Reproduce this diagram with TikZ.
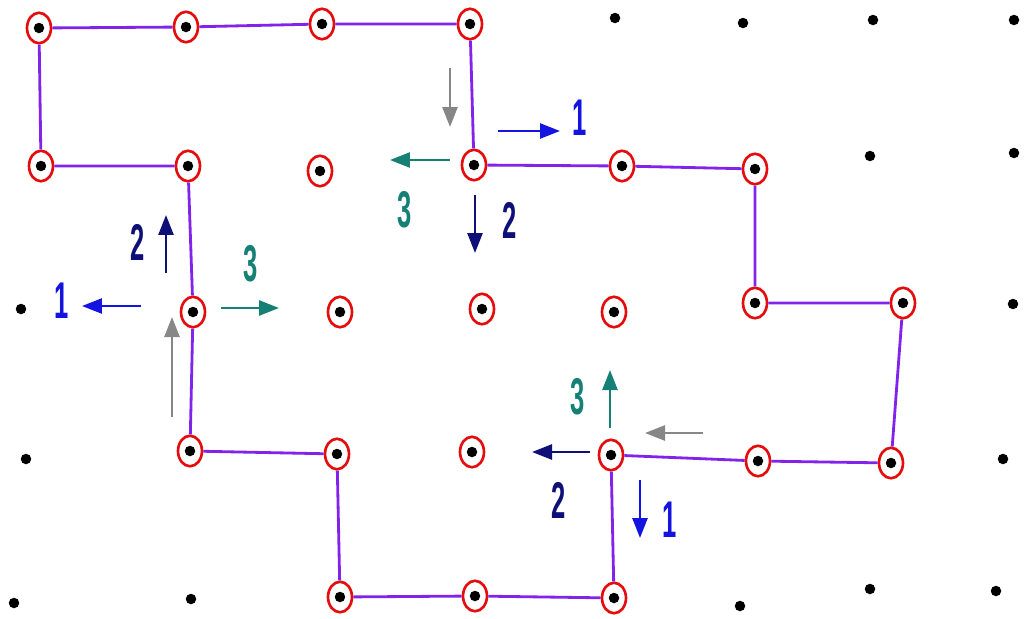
\documentclass[tikz,border=0pt]{standalone}
\usepackage{graphicx}
\usepackage{fontspec}
\setsansfont{Liberation Sans}
\usetikzlibrary{shapes.geometric,arrows.meta}
\definecolor{cPath}{RGB}{130,35,235}
\definecolor{cRing}{RGB}{228,12,12}
\definecolor{tOne}{RGB}{20,20,225}
\definecolor{tTwo}{RGB}{15,15,120}
\definecolor{tThree}{RGB}{20,128,118}
\definecolor{tBack}{RGB}{135,135,135}
\newcommand{\dignum}[1]{\scalebox{0.52}[1.05]{\bfseries #1}}

\begin{document}
\begin{tikzpicture}[
  x=0.02cm, y=-0.02cm,
  >={Triangle[length=4mm,width=3mm]},
  site/.style={ellipse, draw=cRing, line width=1.5pt, fill=white, inner sep=0pt, minimum width=4.8mm, minimum height=6.1mm},
  grid/.style={circle, fill=black, inner sep=0pt, minimum size=2.1mm},
  route/.style={draw=cPath, line width=1.6pt},
  mv/.style={->, line width=1.5pt},
  lbl/.style={font=\sffamily\fontsize{28}{30}\selectfont, inner sep=0pt},
]
\useasboundingbox (0,0) rectangle (1025,619);

% ---- plain lattice points ----
\foreach \n/\x/\y in {g1/615/18, g2/743/23, g3/873/20, g4/1014/20, g5/870/156, g6/1014/153,
  g7/21/309, g8/1013/304, g9/26/459, g10/1003/459, g11/14/603, g12/191/599,
  g13/740/606, g14/870/589, g15/996/591}
  \node[grid] (\n) at (\x,\y) {};

% ---- ringed points on the loop ----
\foreach \n/\x/\y in {a1/39/28, a2/186/27, a3/322/24, a4/470/24, a5/474/165, a6/622/166,
  a7/755/169, a8/755/303, a9/903/303, a10/891/463, a11/758/461, a12/611/455,
  a13/614/598, a14/475/596, a15/340/597, a16/337/454, a17/190/451, a18/193/312,
  a19/188/166, a20/41/166}
  {\node[site] (\n) at (\x,\y) {};
   \node[grid] (\n c) at (\n) {};}

% ---- ringed points inside ----
\foreach \n/\x/\y in {b1/320/171, b2/340/312, b3/482/309, b4/614/312, b5/472/452}
  {\node[site] (\n) at (\x,\y) {};
   \node[grid] (\n c) at (\n) {};}

% ---- the loop ----
\draw[route] (a1) -- (a2) -- (a3) -- (a4) -- (a5) -- (a6) -- (a7) -- (a8) -- (a9) -- (a10)
  -- (a11) -- (a12) -- (a13) -- (a14) -- (a15) -- (a16) -- (a17) -- (a18) -- (a19) -- (a20) -- (a1);

% ---- move arrows ----
\foreach \n/\x/\y in {
  u1s/450/68,  u1e/450/127,  u2s/498/131, u2e/560/131, u3s/450/160, u3e/390/160, u4s/475/195, u4e/475/253,
  v1s/166/273, v1e/166/215,  v2s/141/306, v2e/82/306,  v3s/221/308, v3e/279/308, v4s/172/417, v4e/172/317,
  w1s/610/428, w1e/610/370,  w2s/703/433, w2e/645/433, w3s/590/452, w3e/532/452, w4s/640/480, w4e/640/538}
  \coordinate (\n) at (\x,\y);
\foreach \s/\e/\c in {u1s/u1e/tBack, u2s/u2e/tOne, u3s/u3e/tThree, u4s/u4e/tTwo,
  v1s/v1e/tTwo, v2s/v2e/tOne, v3s/v3e/tThree, v4s/v4e/tBack,
  w1s/w1e/tThree, w2s/w2e/tBack, w3s/w3e/tTwo, w4s/w4e/tOne}
  \draw[mv, \c] (\s) -- (\e);

% ---- labels ----
\node[lbl, text=tOne] (u1) at (580,118) {\dignum{1}};
\node[lbl, text=tTwo] (u2) at (510,220) {\dignum{2}};
\node[lbl, text=tThree] (u3) at (405,210) {\dignum{3}};
\node[lbl, text=tOne] (v1) at (62,301) {\dignum{1}};
\node[lbl, text=tTwo] (v2) at (138,242) {\dignum{2}};
\node[lbl, text=tThree] (v3) at (251,264) {\dignum{3}};
\node[lbl, text=tOne] (w1) at (670,520) {\dignum{1}};
\node[lbl, text=tTwo] (w2) at (559,500) {\dignum{2}};
\node[lbl, text=tThree] (w3) at (578,397) {\dignum{3}};

\end{tikzpicture}
\end{document}
